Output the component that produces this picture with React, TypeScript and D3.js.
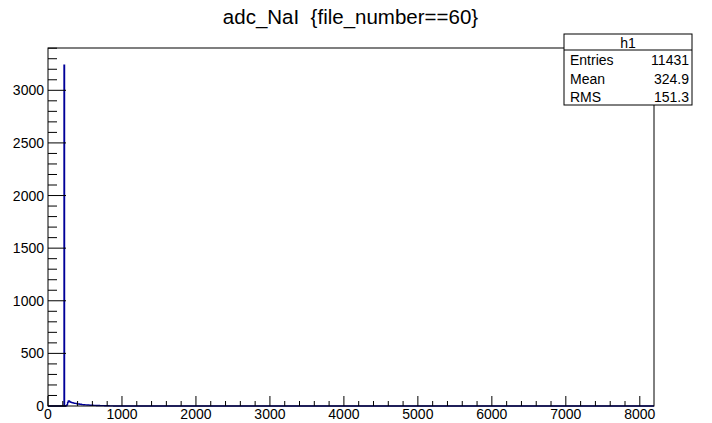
import React from "react";
import * as d3 from "d3";

const titleText = "adc_NaI\u00a0\u00a0{file_number==60}";
const statsName = "h1";
const statsLabels = ["Entries", "Mean", "RMS"];
const statsValues = ["11431", "324.9", "151.3"];

const xTicks = [0, 1000, 2000, 3000, 4000, 5000, 6000, 7000, 8000];
const yTicks = [0, 500, 1000, 1500, 2000, 2500, 3000];

const xMin = 0;
const xMax = 8192;
const yMaxVal = 3402;
const binWidth = 8;
const firstBinStart = 216;
// bin counts starting at firstBinStart, each binWidth wide
const binCounts = [
  3240, 0, 0, 2, 4, 14, 32, 46, 48, 43, 40, 37, 34, 32, 33, 30, 28, 27, 25, 24,
  25, 22, 21, 20, 19, 20, 17, 16, 17, 15, 14, 14, 13, 12, 13, 11, 11, 10, 11, 9,
  9, 10, 8, 8, 7, 8, 7, 6, 7, 6, 6, 5, 6, 5, 5, 4, 5, 4, 4, 5,
  4, 3, 4, 3, 4, 3, 3, 4, 3, 2, 3, 3, 2, 3, 2, 3, 2, 2, 1, 2,
  1, 2, 1, 1, 0, 1, 1, 0, 1, 0, 0, 1,
];

const W = 712;
const H = 423;
const left = 48;
const right = 654;
const top = 48;
const bottom = 406;
const font = "'Liberation Sans', Arial, Helvetica, sans-serif";

export default function App() {
  const x = d3.scaleLinear().domain([xMin, xMax]).range([left, right]);
  const y = d3.scaleLinear().domain([0, yMaxVal]).range([bottom, top]);

  const pts: [number, number][] = [[x(xMin), y(0)], [x(firstBinStart), y(0)]];
  binCounts.forEach((c, i) => {
    const x0 = firstBinStart + i * binWidth;
    const x1 = x0 + binWidth;
    pts.push([x(x0), y(c)]);
    pts.push([x(x1), y(c)]);
  });
  const lastX = firstBinStart + binCounts.length * binWidth;
  pts.push([x(lastX), y(0)]);
  pts.push([x(xMax), y(0)]);
  const line = d3.line<[number, number]>().x((d) => d[0]).y((d) => d[1]).curve(d3.curveLinear);

  const xMinor = d3.range(0, xMax + 1, 200).filter((v) => v % 1000 !== 0);
  const yMinor = d3.range(0, yMaxVal, 100).filter((v) => v % 500 !== 0);

  const boxL = 564;
  const boxR = 692;
  const boxT = 34;
  const boxHead = 50;
  const boxB = 105;

  return (
    <svg width={W} height={H} style={{ position: "absolute", left: 0, top: 0, background: "#fff" }}>
      <rect x={0} y={0} width={W} height={H} fill="#fff" />
      <text x={350.5} y={24} textAnchor="middle" fontFamily={font} fontSize={20.5} fill="#000">
        {titleText}
      </text>
      <path d={line(pts) || ""} fill="none" stroke="#000099" strokeWidth={1.3} />
      <rect x={left} y={top} width={right - left} height={bottom - top} fill="none" stroke="#000" strokeWidth={1} />
      {xTicks.map((t) => (
        <g key={"xt" + t}>
          <line x1={x(t)} x2={x(t)} y1={bottom} y2={bottom - 10} stroke="#000" />
          <text x={x(t)} y={419} textAnchor="middle" fontFamily={font} fontSize={14} fill="#000">
            {t}
          </text>
        </g>
      ))}
      {xMinor.map((t) => (
        <line key={"xm" + t} x1={x(t)} x2={x(t)} y1={bottom} y2={bottom - 5} stroke="#000" />
      ))}
      {yTicks.map((t) => (
        <g key={"yt" + t}>
          <line x1={left} x2={left + 18} y1={y(t)} y2={y(t)} stroke="#000" />
          <text x={44} y={y(t) + 5} textAnchor="end" fontFamily={font} fontSize={14} fill="#000">
            {t}
          </text>
        </g>
      ))}
      {yMinor.map((t) => (
        <line key={"ym" + t} x1={left} x2={left + 9} y1={y(t)} y2={y(t)} stroke="#000" />
      ))}
      <rect x={boxL} y={boxT} width={boxR - boxL} height={boxB - boxT} fill="#fff" stroke="#000" />
      <line x1={boxL} x2={boxR} y1={boxHead} y2={boxHead} stroke="#000" />
      <text x={(boxL + boxR) / 2} y={47.5} textAnchor="middle" fontFamily={font} fontSize={14} fill="#000">
        {statsName}
      </text>
      {statsLabels.map((l, i) => (
        <g key={l}>
          <text x={boxL + 6} y={65 + i * 18.5} fontFamily={font} fontSize={14} fill="#000">
            {l}
          </text>
          <text x={boxR - 3} y={65 + i * 18.5} textAnchor="end" fontFamily={font} fontSize={14} fill="#000">
            {statsValues[i]}
          </text>
        </g>
      ))}
    </svg>
  );
}
